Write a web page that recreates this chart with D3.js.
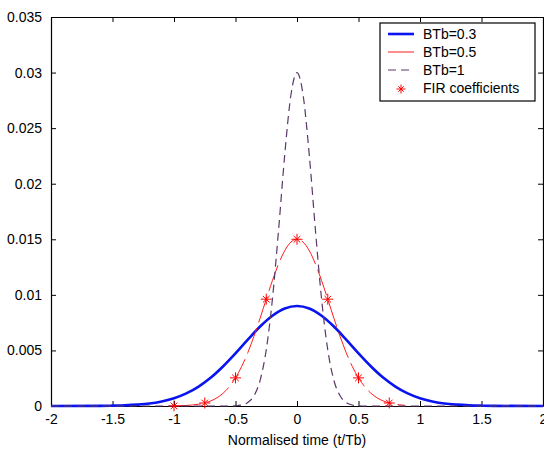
<!DOCTYPE html>
<html>
<head>
<meta charset="utf-8">
<script src="https://cdnjs.cloudflare.com/ajax/libs/d3/7.8.5/d3.min.js"></script>
<style>
  body {margin: 0; background: #fff;}
  svg text {font-family: "Liberation Sans", Arial, sans-serif; font-size: 14px; fill: #000;}
</style>
</head>
<body>
<svg id="chart" width="544" height="449"></svg>
<script>
// Normalised time samples (t/Tb) for the three gaussian pulses
var tWide = [-2, -1.6, -1.5, -1.4, -1.3, -1.2, -1.1, -1, -0.9, -0.8, -0.7, -0.6, -0.5, -0.4, -0.3, -0.2, -0.1, 0,
             0.1, 0.2, 0.3, 0.4, 0.5, 0.6, 0.7, 0.8, 0.9, 1, 1.1, 1.2, 1.3, 1.4, 1.5, 1.6, 2];
var bt03 = [0, 0.00001, 0.00003, 0.00006, 0.00012, 0.00022, 0.00041, 0.00069, 0.00113, 0.00175, 0.00256, 0.00358, 0.00474, 0.00597, 0.00715, 0.00812, 0.00877, 0.009,
            0.00877, 0.00812, 0.00715, 0.00597, 0.00474, 0.00358, 0.00256, 0.00175, 0.00113, 0.00069, 0.00041, 0.00022, 0.00012, 0.00006, 0.00003, 0.00001, 0];

var tMid = [-1, -0.9, -0.85, -0.8, -0.75, -0.7, -0.65, -0.6, -0.55, -0.5, -0.45, -0.4, -0.35, -0.3, -0.25, -0.2, -0.15, -0.1, -0.05, 0,
            0.05, 0.1, 0.15, 0.2, 0.25, 0.3, 0.35, 0.4, 0.45, 0.5, 0.55, 0.6, 0.65, 0.7, 0.75, 0.8, 0.85, 0.875];
var bt05 = [0.00001, 0.00005, 0.00009, 0.00016, 0.00027, 0.00046, 0.00074, 0.00116, 0.00174, 0.00253, 0.00355, 0.0048, 0.00627, 0.0079, 0.00961, 0.01128, 0.01278, 0.01397, 0.01474, 0.015,
            0.01474, 0.01397, 0.01278, 0.01128, 0.00961, 0.0079, 0.00627, 0.0048, 0.00355, 0.00253, 0.00174, 0.00116, 0.00074, 0.00046, 0.00027, 0.00016, 0.00009, 0.00007];

var tNarrow = [-2, -0.55, -0.5, -0.45, -0.4, -0.35, -0.3, -0.25, -0.2, -0.15, -0.1, -0.05, 0,
               0.05, 0.1, 0.15, 0.2, 0.25, 0.3, 0.35, 0.4, 0.45, 0.5, 0.55, 2];
var bt1 = [0, 0, 0.00002, 0.00009, 0.00032, 0.00092, 0.00231, 0.00506, 0.0096, 0.01581, 0.02257, 0.02794, 0.03,
           0.02794, 0.02257, 0.01581, 0.0096, 0.00506, 0.00231, 0.00092, 0.00032, 0.00009, 0.00002, 0, 0];

// FIR taps
var firT = [-1, -0.75, -0.5, -0.25, 0, 0.25, 0.5, 0.75];
var firVal = [0.00001, 0.00027, 0.00253, 0.00961, 0.015, 0.00961, 0.00253, 0.00027];

var xTicks = [-2, -1.5, -1, -0.5, 0, 0.5, 1, 1.5, 2];
var yTicks = [0, 0.005, 0.01, 0.015, 0.02, 0.025, 0.03, 0.035];

var legendNames = ["BTb=0.3", "BTb=0.5", "BTb=1", "FIR coefficients"];

var margin = {top: 17, right: 1, bottom: 43, left: 51};
var svg = d3.select("#chart"),
    width = +svg.attr("width") - margin.left - margin.right,
    height = +svg.attr("height") - margin.top - margin.bottom;

var g = svg.append("g")
  .attr("transform", "translate(" + margin.left + "," + margin.top + ")");

var x = d3.scaleLinear().domain([-2, 2]).range([0, width]),
    y = d3.scaleLinear().domain([0, 0.035]).range([height, 0]);

var fmt = function(d) {return String(d);};

// box axes with inward ticks (matlab style)
g.append("g").attr("class", "axis")
  .attr("transform", "translate(0," + height + ")")
  .call(d3.axisBottom(x).tickValues(xTicks).tickFormat(fmt).tickSizeInner(-5).tickSizeOuter(0).tickPadding(8));
g.append("g").attr("class", "axis")
  .call(d3.axisTop(x).tickValues(xTicks).tickFormat("").tickSizeInner(-5).tickSizeOuter(0));
g.append("g").attr("class", "axis")
  .call(d3.axisLeft(y).tickValues(yTicks).tickFormat(fmt).tickSizeInner(-5).tickSizeOuter(0).tickPadding(9));
g.append("g").attr("class", "axis")
  .attr("transform", "translate(" + width + ",0)")
  .call(d3.axisRight(y).tickValues(yTicks).tickFormat("").tickSizeInner(-5).tickSizeOuter(0));

g.selectAll(".axis path").attr("stroke", "#000").attr("stroke-width", 1.2);
g.selectAll(".axis line").attr("stroke", "#000");
g.selectAll(".axis text").attr("font-family", null).attr("font-size", null);

// x label
g.append("text")
  .attr("x", width / 2)
  .attr("y", height + 39)
  .attr("text-anchor", "middle")
  .text("Normalised time (t/Tb)");

var line = d3.line()
  .x(function(d) {return x(d[0]);})
  .y(function(d) {return y(d[1]);})
  .curve(d3.curveMonotoneX);

function pairs(ts, vs) {return ts.map(function(t, i) {return [t, vs[i]];});}

g.append("path")
  .attr("d", line(pairs(tWide, bt03)))
  .attr("fill", "none")
  .attr("stroke", "#0a14f0")
  .attr("stroke-width", 2.6);

g.append("path")
  .attr("d", line(pairs(tMid, bt05)))
  .attr("fill", "none")
  .attr("stroke", "#ff1a1a")
  .attr("stroke-width", 1)
  .attr("stroke-dasharray", "27,6");

g.append("path")
  .attr("d", line(pairs(tNarrow, bt1)))
  .attr("fill", "none")
  .attr("stroke", "#5a3868")
  .attr("stroke-width", 1.2)
  .attr("stroke-dasharray", "8,5");

// asterisk marker
function star(sel, r) {
  sel.append("path")
    .attr("d", "M" + (-r) + ",0H" + r + "M0," + (-r) + "V" + r +
      "M" + (-r * 0.6) + "," + (-r * 0.6) + "L" + (r * 0.6) + "," + (r * 0.6) +
      "M" + (-r * 0.6) + "," + (r * 0.6) + "L" + (r * 0.6) + "," + (-r * 0.6))
    .attr("stroke", "#ff0000")
    .attr("stroke-width", 1)
    .attr("fill", "none");
}

g.selectAll(".fir")
  .data(pairs(firT, firVal))
  .enter().append("g")
    .attr("class", "fir")
    .attr("transform", function(d) {return "translate(" + x(d[0]) + "," + y(d[1]) + ")";})
    .each(function() {star(d3.select(this), 5.5);});

// legend
var lg = svg.append("g").attr("transform", "translate(380,23)");
lg.append("rect")
  .attr("width", 155).attr("height", 78)
  .attr("fill", "#fff").attr("stroke", "#000").attr("stroke-width", 1.2);

var styles = [
  {stroke: "#0a14f0", w: 2.6, dash: null},
  {stroke: "#ff1a1a", w: 1, dash: null},
  {stroke: "#5a3868", w: 1.2, dash: "8,5"}
];

legendNames.forEach(function(name, i) {
  var ly = 11 + i * 18;
  if (i < 3) {
    lg.append("line")
      .attr("x1", 8).attr("x2", 34).attr("y1", ly).attr("y2", ly)
      .attr("stroke", styles[i].stroke)
      .attr("stroke-width", styles[i].w)
      .attr("stroke-dasharray", styles[i].dash);
  } else {
    var m = lg.append("g").attr("transform", "translate(21," + (ly + 1) + ")");
    star(m, 4.5);
  }
  lg.append("text")
    .attr("x", 43).attr("y", ly + 5)
    .text(name);
});
</script>
</body>
</html>
